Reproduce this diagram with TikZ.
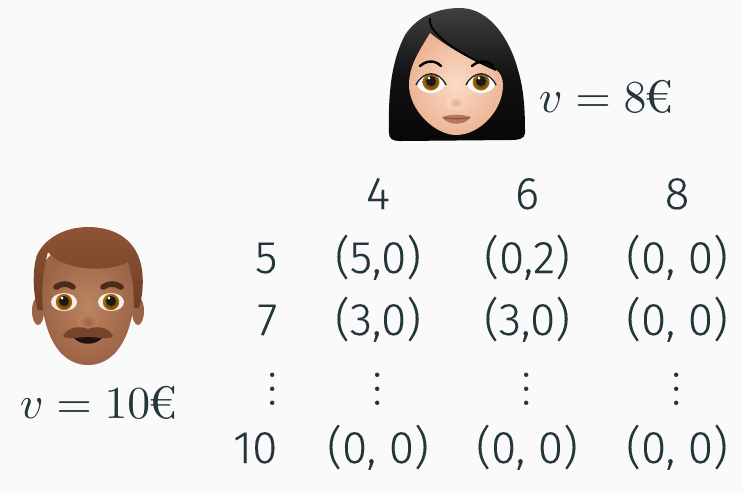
\documentclass[tikz,border=0pt]{standalone}
\usepackage{fontspec}
\newfontfamily\tablefont[FakeBold=0.15]{Fira Sans Light}
\definecolor{ink}{HTML}{23373B}
\definecolor{pagebg}{HTML}{FAFAFA}
\definecolor{skinw}{HTML}{FADBC6}
\definecolor{skinwd}{HTML}{EDB595}
\definecolor{skinm}{HTML}{BC8460}
\definecolor{skinmd}{HTML}{9C6446}
\definecolor{hairm}{HTML}{6E3D24}
\definecolor{hairml}{HTML}{8E5535}
\definecolor{amber}{HTML}{A8700F}
\definecolor{irisd}{HTML}{3A1A05}
\definecolor{lipw}{HTML}{B9755E}
\tikzset{
  cell/.style={anchor=base,text=ink,inner sep=0pt,font=\fontsize{13}{15}\tablefont},
  rowlabel/.style={cell,anchor=base east},
  dotscell/.style={text=ink,inner sep=0pt,font=\fontsize{12.9}{15}\selectfont},
  value/.style={anchor=base west,text=ink,inner sep=0pt,font=\fontsize{10}{12}\selectfont,scale=1.3,transform shape}
}
\begin{document}
\begin{tikzpicture}[x=0.01cm,y=-0.01cm]
\useasboundingbox (0,0) rectangle (743,493);
\fill[pagebg] (0,0) rectangle (743,493);
% woman
\path[top color=black!75,bottom color=black!97,middle color=black!93]
  (389,133) .. controls (388,90) and (392,60) .. (405,35) .. controls (418,15) and (440,8) .. (460,8)
  .. controls (490,8) and (510,40) .. (518,70) .. controls (524,90) and (525,110) .. (525,133)
  .. controls (525,139) and (518,140) .. (510,140) -- (400,141) .. controls (393,141) and (389,139) .. (389,133) -- cycle;
\path[inner color=skinw,outer color=skinwd]
  (430,33) .. controls (420,50) and (409,65) .. (409,85) .. controls (409,110) and (435,135) .. (456,135)
  .. controls (480,135) and (503,110) .. (503,85) .. controls (503,78) and (500,72) .. (496,70)
  .. controls (475,62) and (448,48) .. (430,33) -- cycle;
\draw[black,line width=0.5] (430,18) .. controls (427,28) and (445,48) .. (496,70);
% eyes
\foreach \ex in {431,481}{
  \fill[white] (\ex,83) ellipse (14 and 10);
  \shade[inner color=irisd,outer color=amber] (\ex,82) circle (8.5);
  \fill[black!90] (\ex,81) circle (5);
  \fill[white] (\ex-2,78) circle (1.5);
  \draw[black!85,line width=0.4] (\ex-15,85) .. controls (\ex-8,70) and (\ex+8,70) .. (\ex+15,85);
}
\draw[black,line width=0.7,line cap=round] (420,66) .. controls (427,60) and (435,60) .. (441,66);
\draw[black,line width=0.7,line cap=round] (472,66) .. controls (479,60) and (487,60) .. (493,66);
\shade[inner color=skinwd!85!brown,outer color=skinw] (456,103) ellipse (9 and 7);
\fill[lipw] (442,117) .. controls (450,114) and (463,114) .. (471,117) .. controls (465,126) and (448,126) .. (442,117) -- cycle;
\draw[lipw!70!black,line width=0.3] (444,118) .. controls (450,119) and (463,119) .. (469,118);
% man
\fill[skinmd] (38,311) ellipse (6 and 14);
\fill[skinmd] (138,311) ellipse (6 and 14);
\path[inner color=skinm,outer color=skinmd]
  (41,280) .. controls (40,325) and (55,365) .. (88,365) .. controls (121,365) and (136,325) .. (135,280)
  .. controls (135,260) and (125,245) .. (88,245) .. controls (51,245) and (41,260) .. (41,280) -- cycle;
\path[top color=hairml,bottom color=hairm]
  (38,310) .. controls (33,295) and (32,270) .. (37,255) .. controls (45,238) and (65,227) .. (88,227)
  .. controls (115,227) and (138,240) .. (142,270) .. controls (144,285) and (142,298) .. (139,308)
  -- (134,308) .. controls (134,285) and (132,275) .. (128,262) .. controls (110,272) and (65,272) .. (48,252)
  .. controls (43,270) and (41,290) .. (43,310) -- cycle;
\foreach \ex in {64,111}{
  \fill[white!85!skinm] (\ex,302) ellipse (13 and 9);
  \shade[inner color=irisd,outer color=amber] (\ex,302) circle (8.2);
  \fill[black!90] (\ex,301) circle (5);
  \fill[white] (\ex-2,298) circle (1.5);
}
\draw[hairm!70!black,line width=1.6,line cap=round] (56,287) .. controls (62,283) and (68,283) .. (73,287);
\draw[hairm!70!black,line width=1.6,line cap=round] (103,287) .. controls (109,283) and (115,283) .. (121,287);
\shade[inner color=skinmd,outer color=skinm] (88,322) ellipse (10 and 8);
\fill[black!85!brown] (73,337) .. controls (80,346) and (96,346) .. (103,337) -- cycle;
\fill[hairm!90!skinm] (63,336) .. controls (68,326) and (82,326) .. (88,329) .. controls (95,326) and (108,326) .. (113,336)
  .. controls (110,340) and (95,337) .. (88,337) .. controls (81,337) and (66,340) .. (63,336) -- cycle;
% values
\node[value] (vwoman) at (538,112) {$v=8$\kern-0.5pt €};
\node[value] (vman) at (19,418) {$v=10$\kern-0.5pt €};
% table
\node[cell] (h4) at (378,209) {4};
\node[cell] (h6) at (527,209) {6};
\node[cell] (h8) at (677,209) {8};
\node[rowlabel] (r5) at (278,273) {5};
\node[cell] (a54) at (378,273) {(5,0)};
\node[cell] (a56) at (527,273) {(0,2)};
\node[cell] (a58) at (677,273) {(0, 0)};
\node[rowlabel] (r7) at (278,335) {7};
\node[cell] (a74) at (378,335) {(3,0)};
\node[cell] (a76) at (527,335) {(3,0)};
\node[cell] (a78) at (677,335) {(0, 0)};
\node[dotscell] (d0) at (273,379) {$\vdots$};
\node[dotscell] (d4) at (378,379) {$\vdots$};
\node[dotscell] (d6) at (527,379) {$\vdots$};
\node[dotscell] (d8) at (677,379) {$\vdots$};
\node[rowlabel] (r10) at (278,463) {10};
\node[cell] (a104) at (378,463) {(0, 0)};
\node[cell] (a106) at (527,463) {(0, 0)};
\node[cell] (a108) at (677,463) {(0, 0)};
\end{tikzpicture}
\end{document}
